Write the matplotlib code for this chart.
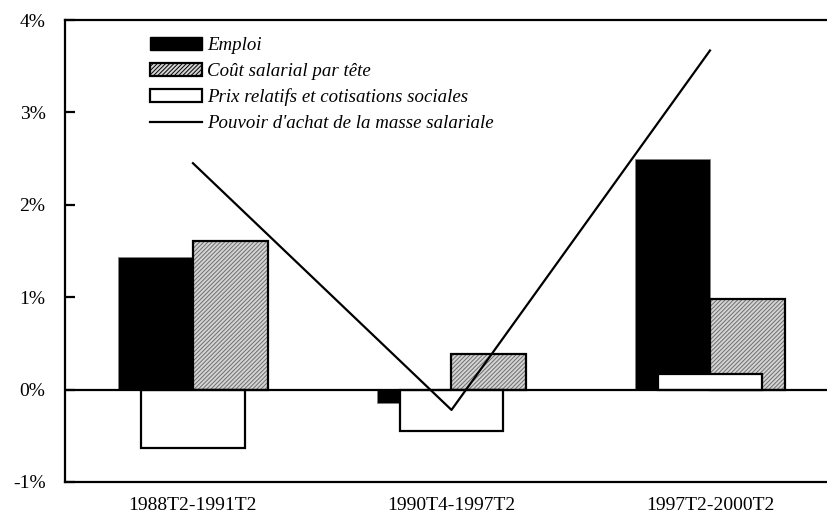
import numpy as np
import matplotlib
matplotlib.use("Agg")
import matplotlib.pyplot as plt
from matplotlib.patches import Patch
from matplotlib.lines import Line2D

plt.rcParams['font.family'] = ['Liberation Serif', 'DejaVu Serif']
plt.rcParams['hatch.linewidth'] = 0.7

# Data (% per year)
periods = ["1988T2-1991T2", "1990T4-1997T2", "1997T2-2000T2"]
emploi = [1.43, -0.14, 2.50]
cout_salarial = [1.61, 0.38, 0.98]
prix_relatifs = [-0.63, -0.45, 0.17]
pouvoir_achat = [2.45, -0.22, 3.67]
yticks = [-1, 0, 1, 2, 3, 4]
ytick_labels = ["-1%", "0%", "1%", "2%", "3%", "4%"]

x = np.arange(len(periods))
w = 0.29
w_white = 0.40
hatch_face = '#d4d4d4'
hatch_col = '#6e6e6e'

fig = plt.figure(figsize=(8.28, 5.24), dpi=100)
ax = fig.add_axes([65 / 828, 42 / 524, 763 / 828, 462 / 524])

# Emploi (black)
ax.bar(x - w / 2, emploi, w, color='black', edgecolor='#808080', linewidth=0.5, zorder=2)
# Coût salarial par tête (hatched grey)
ax.bar(x + w / 2, cout_salarial, w, color=hatch_face, edgecolor=hatch_col, hatch='////////',
       linewidth=0, zorder=2)
ax.bar(x + w / 2, cout_salarial, w, fill=False, edgecolor='black', linewidth=1.6, zorder=2.1)
# Prix relatifs et cotisations sociales (white, on top)
ax.bar(x, prix_relatifs, w_white, color='white', edgecolor='black', linewidth=1.6, zorder=3)

ax.axhline(0, color='black', linewidth=1.6, zorder=3.5)
# Pouvoir d'achat de la masse salariale
ax.plot(x, pouvoir_achat, color='black', linewidth=1.6, zorder=4)

ax.set_xlim(-0.495, (828 - 193) / 258.5)
ax.set_ylim(-1, 4)
ax.set_yticks(yticks)
ax.set_yticklabels(ytick_labels)
ax.set_xticks(x)
ax.set_xticklabels(periods)
ax.tick_params(axis='y', direction='in', length=7, width=1.6, labelsize=14, pad=14)
ax.tick_params(axis='x', length=0, labelsize=14, pad=11)
for s in ['left', 'top', 'bottom']:
    ax.spines[s].set_linewidth(1.6)
ax.spines['right'].set_visible(False)

handles = [
    Patch(facecolor='black', edgecolor='black', linewidth=1.0),
    Patch(facecolor=hatch_face, edgecolor='black', hatch='////////', linewidth=1.6),
    Patch(facecolor='white', edgecolor='black', linewidth=1.6),
    Line2D([0], [0], color='black', linewidth=1.6),
]
labels = ["Emploi", "Coût salarial par tête", "Prix relatifs et cotisations sociales",
          "Pouvoir d'achat de la masse salariale"]
ax.legend(handles, labels, loc='upper left', bbox_to_anchor=(0.1115, 0.963), frameon=False,
          prop={'style': 'italic', 'size': 13.6}, handlelength=2.75, handleheight=0.7,
          handletextpad=0.26, labelspacing=0.45, borderaxespad=0, borderpad=0)

fig.savefig("out.png", dpi=100)
